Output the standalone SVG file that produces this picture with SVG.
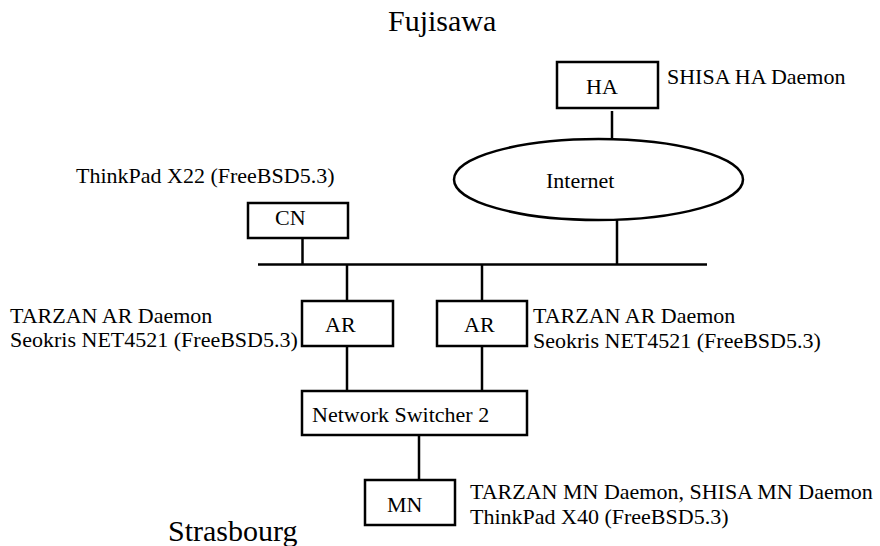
<svg xmlns="http://www.w3.org/2000/svg" width="880" height="546" viewBox="0 0 880 546">
<style>
text{font-family:"Liberation Serif","Times New Roman",serif;font-size:22px;fill:#000}
.t{font-size:30px}
.box{fill:#fff;stroke:#000;stroke-width:2.5}
.ln{stroke:#000;stroke-width:2.5;fill:none}
</style>
<rect width="880" height="546" fill="#fff"/>
<text class="t" x="388" y="31">Fujisawa</text>
<text class="t" x="168" y="541">Strasbourg</text>
<g id="connectors">
<line class="ln" x1="612" y1="111" x2="612" y2="143"/>
<line class="ln" x1="617" y1="220" x2="617" y2="264.5"/>
<line class="ln" x1="258" y1="264.5" x2="707" y2="264.5"/>
<line class="ln" x1="302.5" y1="238" x2="302.5" y2="264.5"/>
<line class="ln" x1="347" y1="264.5" x2="347" y2="301"/>
<line class="ln" x1="482" y1="264.5" x2="482" y2="301"/>
<line class="ln" x1="347" y1="346" x2="347" y2="391"/>
<line class="ln" x1="482" y1="346" x2="482" y2="391"/>
<line class="ln" x1="419" y1="435" x2="419" y2="480"/>
</g>
<g id="HA">
<rect class="box" x="557" y="62" width="101" height="46"/>
<text x="586" y="94">HA</text>
<text x="667" y="84">SHISA HA Daemon</text>
</g>
<g id="Internet">
<ellipse class="box" cx="598.5" cy="179.5" rx="144.5" ry="40.5"/>
<text x="546" y="188">Internet</text>
</g>
<g id="CN">
<rect class="box" x="248" y="203" width="100" height="35"/>
<text x="275" y="225">CN</text>
<text x="76" y="183">ThinkPad X22 (FreeBSD5.3)</text>
</g>
<g id="AR1">
<rect class="box" x="302" y="301" width="91" height="45"/>
<text x="325" y="332">AR</text>
<text x="10" y="323">TARZAN AR Daemon</text>
<text x="10" y="347">Seokris NET4521 (FreeBSD5.3)</text>
</g>
<g id="AR2">
<rect class="box" x="437" y="301" width="90" height="45"/>
<text x="464" y="332">AR</text>
<text x="533" y="323">TARZAN AR Daemon</text>
<text x="533" y="348">Seokris NET4521 (FreeBSD5.3)</text>
</g>
<g id="Switch">
<rect class="box" x="302" y="391" width="225" height="44"/>
<text x="312" y="422">Network Switcher 2</text>
</g>
<g id="MN">
<rect class="box" x="365" y="480" width="90" height="45"/>
<text x="387" y="512">MN</text>
<text x="470" y="499">TARZAN MN Daemon, SHISA MN Daemon</text>
<text x="470" y="524">ThinkPad X40 (FreeBSD5.3)</text>
</g>
</svg>
